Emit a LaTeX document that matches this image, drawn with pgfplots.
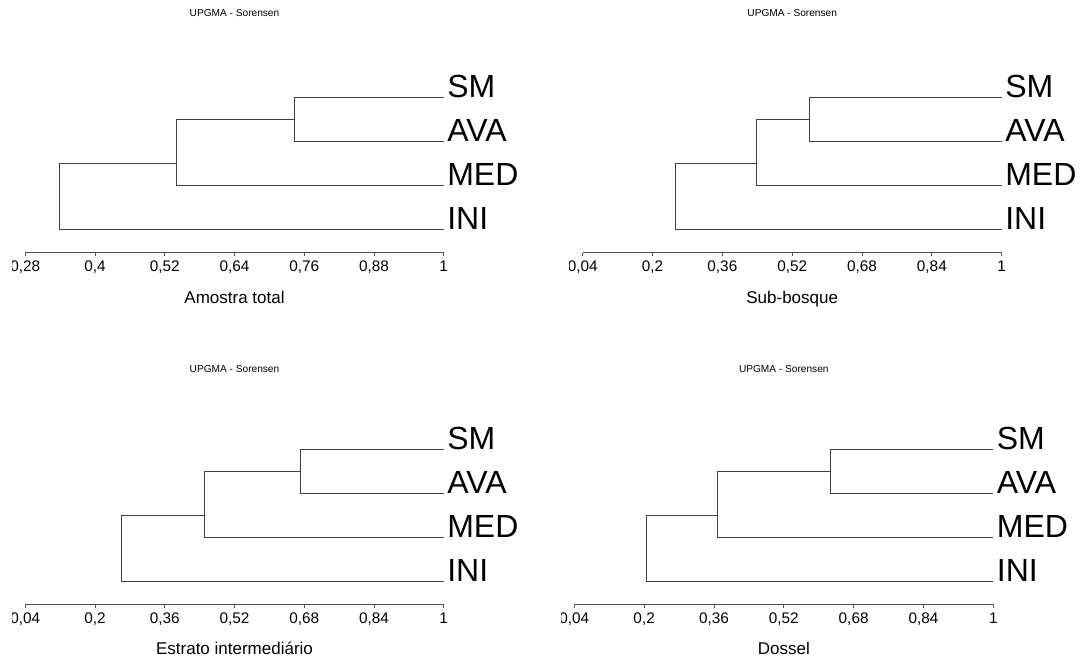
\documentclass[border=0pt]{standalone}
\usepackage{fontspec}
\setmainfont{Liberation Sans}
\usepackage{pgfplots}
\pgfplotsset{compat=1.18}

% 1 px of the reference = 0.75pt
\newcommand\leaffont{\fontsize{24}{24}\selectfont}
\newcommand\titlefont{\fontsize{7.6}{8}\selectfont}

\pgfplotsset{
  dendro/.style={
    scale only axis,
    height=132.98pt,
    ymin=0.48, ymax=4.5,
    xmax=1,
    clip=false,
    axis x line=bottom,
    axis y line=none,
    axis line style={-, black!70, line width=0.6pt},
    tick align=outside,
    major tick length=2.5pt,
    tick style={black!70, line width=0.6pt},
    typeset ticklabels with strut,
    xticklabel style={font=\fontsize{11.5}{12}\selectfont,
      /pgf/number format/.cd, use comma, fixed, precision=2, assume math mode=true},
    every axis x label/.style={at={(axis description cs:0.5,0)}, anchor=base,
      yshift=-38pt, font=\fontsize{12.75}{13}\selectfont},
  },
  branch/.style={black!75, line width=0.75pt, mark=none},
}
\tikzset{
  ttl/.style={font=\titlefont},
  leaf/.style={anchor=base west, inner sep=0, xshift=2.5pt, font=\leaffont},
}

\begin{document}
\begin{tikzpicture}
\useasboundingbox (0,0) rectangle (814.5pt,-493.5pt);

% ---- Amostra total
\begin{scope}
\clip (9pt,0pt) rectangle (420pt,-246.75pt);
\begin{axis}[dendro, at={(18.98pt,-189.53pt)}, anchor=origin, width=313.8pt,
  xmin=0.28, xtick={0.28,0.4,0.52,0.64,0.76,0.88,1}, xlabel={Amostra total}]
\addplot[branch] coordinates {(1,4) (0.744,4) (0.744,3) (1,3)};
\addplot[branch] coordinates {(0.744,3.5) (0.541,3.5) (0.541,2) (1,2)};
\addplot[branch] coordinates {(0.541,2.5) (0.339,2.5) (0.339,1) (1,1)};
\node[ttl] at (rel axis cs:0.5,1.352) {UPGMA - Sorensen};
\node[leaf] at (axis cs:1,4) {SM};
\node[leaf] at (axis cs:1,3) {AVA};
\node[leaf] at (axis cs:1,2) {MED};
\node[leaf] at (axis cs:1,1) {INI};
\end{axis}
\end{scope}

% ---- Sub-bosque
\begin{scope}
\clip (426.75pt,0pt) rectangle (814.5pt,-246.75pt);
\begin{axis}[dendro, at={(437.03pt,-189.53pt)}, anchor=origin, width=314.25pt,
  xmin=0.04, xtick={0.04,0.2,0.36,0.52,0.68,0.84,1}, xlabel={Sub-bosque}]
\addplot[branch] coordinates {(1,4) (0.559,4) (0.559,3) (1,3)};
\addplot[branch] coordinates {(0.559,3.5) (0.438,3.5) (0.438,2) (1,2)};
\addplot[branch] coordinates {(0.438,2.5) (0.252,2.5) (0.252,1) (1,1)};
\node[ttl] at (rel axis cs:0.5,1.352) {UPGMA - Sorensen};
\node[leaf] at (axis cs:1,4) {SM};
\node[leaf] at (axis cs:1,3) {AVA};
\node[leaf] at (axis cs:1,2) {MED};
\node[leaf] at (axis cs:1,1) {INI};
\end{axis}
\end{scope}

% ---- Estrato intermediario
\begin{scope}
\clip (9pt,-246.75pt) rectangle (420pt,-493.5pt);
\begin{axis}[dendro, at={(18.98pt,-453.23pt)}, anchor=origin, width=313.8pt,
  xmin=0.04, xtick={0.04,0.2,0.36,0.52,0.68,0.84,1}, xlabel={Estrato intermediário}]
\addplot[branch] coordinates {(1,4) (0.672,4) (0.672,3) (1,3)};
\addplot[branch] coordinates {(0.672,3.5) (0.451,3.5) (0.451,2) (1,2)};
\addplot[branch] coordinates {(0.451,2.5) (0.260,2.5) (0.260,1) (1,1)};
\node[ttl] at (rel axis cs:0.5,1.327) {UPGMA - Sorensen};
\node[leaf] at (axis cs:1,4) {SM};
\node[leaf] at (axis cs:1,3) {AVA};
\node[leaf] at (axis cs:1,2) {MED};
\node[leaf] at (axis cs:1,1) {INI};
\end{axis}
\end{scope}

% ---- Dossel
\begin{scope}
\clip (420.75pt,-246.75pt) rectangle (814.5pt,-493.5pt);
\begin{axis}[dendro, at={(430.73pt,-453.23pt)}, anchor=origin, width=314.25pt,
  xmin=0.04, xtick={0.04,0.2,0.36,0.52,0.68,0.84,1}, xlabel={Dossel}]
\addplot[branch] coordinates {(1,4) (0.626,4) (0.626,3) (1,3)};
\addplot[branch] coordinates {(0.626,3.5) (0.369,3.5) (0.369,2) (1,2)};
\addplot[branch] coordinates {(0.369,2.5) (0.206,2.5) (0.206,1) (1,1)};
\node[ttl] at (rel axis cs:0.5,1.327) {UPGMA - Sorensen};
\node[leaf] at (axis cs:1,4) {SM};
\node[leaf] at (axis cs:1,3) {AVA};
\node[leaf] at (axis cs:1,2) {MED};
\node[leaf] at (axis cs:1,1) {INI};
\end{axis}
\end{scope}
\end{tikzpicture}
\end{document}
